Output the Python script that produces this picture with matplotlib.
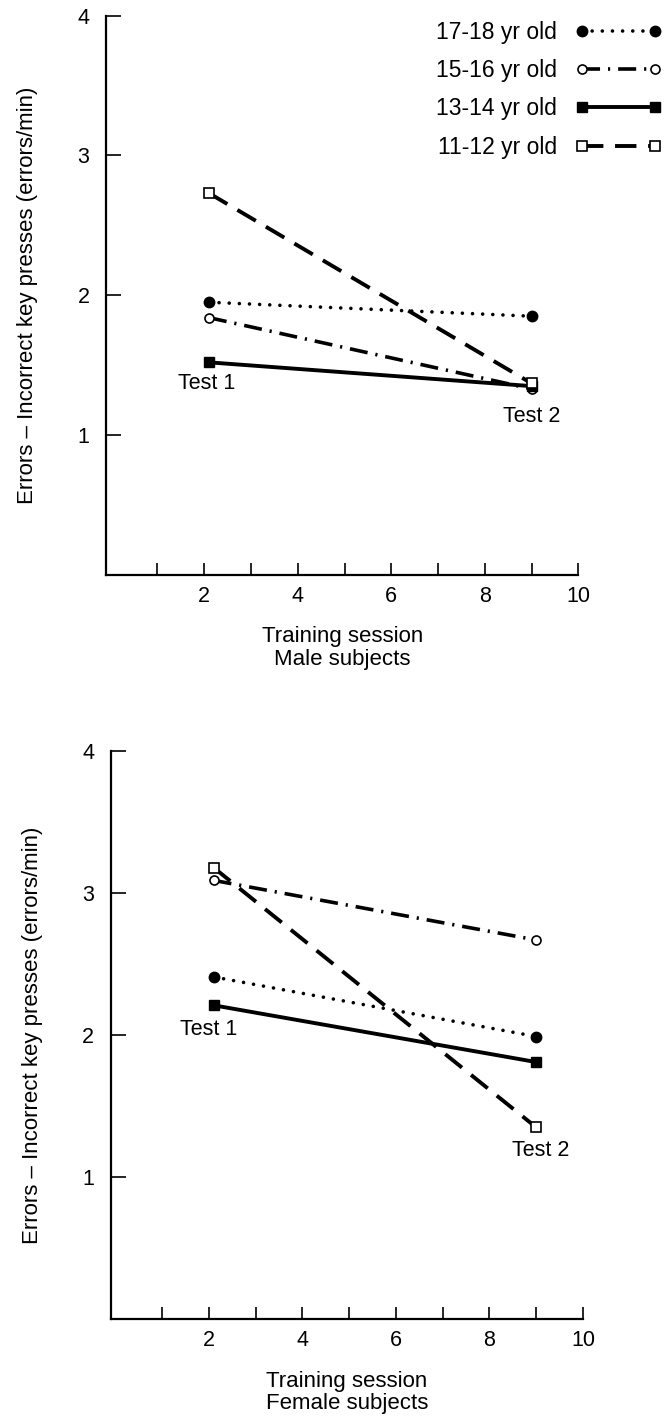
import matplotlib.pyplot as plt

plt.rcParams['font.family'] = ['Liberation Sans', 'DejaVu Sans']

# sessions where the two tests were given
sesiones = [2.1, 9.0]

grupos = ['17-18 yr old', '15-16 yr old', '13-14 yr old', '11-12 yr old']

# errores/min, hombres
hombres_17_18 = [1.95, 1.85]
hombres_15_16 = [1.84, 1.33]
hombres_13_14 = [1.52, 1.35]
hombres_11_12 = [2.73, 1.37]

# errores/min, mujeres
mujeres_17_18 = [2.41, 1.99]
mujeres_15_16 = [3.09, 2.67]
mujeres_13_14 = [2.21, 1.81]
mujeres_11_12 = [3.18, 1.35]

x_ticks = [1, 2, 3, 4, 5, 6, 7, 8, 9, 10]
x_tick_labels = ['', '2', '', '4', '', '6', '', '8', '', '10']
y_ticks = [1, 2, 3, 4]

# estilos: linea, marcador, relleno
estilos = [
    dict(ls=(0, (0.01, 2.8)), marker='o', ms=7.5, mfc='black', lw=2.6, dash_capstyle='round'),
    dict(ls=(0, (5, 2.2, 0.6, 2.2)), marker='o', ms=6.5, mfc='white', mew=1.2, lw=2.6),
    dict(ls='-', marker='s', ms=7, mfc='black', lw=2.8),
    dict(ls=(0, (5.5, 3)), marker='s', ms=6.5, mfc='white', mew=1.2, lw=2.8),
]


def dibujar_panel(ax, series, titulo, pos_test1, pos_test2):
    for serie, estilo, nombre in zip(series, estilos, grupos):
        ax.plot(sesiones, serie, color='black', mec='black', label=nombre, **estilo)

    ax.set_xlim(-0.1, 10)
    ax.set_ylim(0, 4)
    ax.set_xticks(x_ticks)
    ax.set_xticklabels(x_tick_labels)
    ax.set_yticks(y_ticks)
    ax.tick_params(axis='x', direction='in', length=9, width=1.2, pad=8, labelsize=15.5)
    ax.tick_params(axis='y', direction='in', length=11, width=1.2, pad=12, labelsize=15.5)
    ax.spines['top'].set_visible(False)
    ax.spines['right'].set_visible(False)
    ax.spines['left'].set_linewidth(1.6)
    ax.spines['bottom'].set_linewidth(1.6)

    ax.set_ylabel('Errors \u2013 Incorrect key presses (errors/min)', fontsize=16, labelpad=28)
    ax.set_xlabel('Training session\n' + titulo, fontsize=16, labelpad=14, linespacing=1.1)

    ax.text(pos_test1[0], pos_test1[1], 'Test 1', ha='center', va='center', fontsize=15.5)
    ax.text(pos_test2[0], pos_test2[1], 'Test 2', ha='center', va='center', fontsize=15.5)


fig = plt.figure(figsize=(6.67, 14.16), dpi=100)
ax1 = fig.add_axes([0.159, 0.594, 0.708, 0.395])
ax2 = fig.add_axes([0.166, 0.0685, 0.708, 0.401])

dibujar_panel(ax1, [hombres_17_18, hombres_15_16, hombres_13_14, hombres_11_12],
              'Male subjects', (2.05, 1.37), (9.0, 1.13))
dibujar_panel(ax2, [mujeres_17_18, mujeres_15_16, mujeres_13_14, mujeres_11_12],
              'Female subjects', (2.0, 2.04), (9.1, 1.19))

ax1.legend(loc='upper right', bbox_to_anchor=(0.993, 0.985), bbox_transform=fig.transFigure,
           frameon=False, markerfirst=False, numpoints=2, fontsize=16.5,
           handlelength=3.8, handletextpad=0.8, labelspacing=0.66,
           borderpad=0, borderaxespad=0)

fig.savefig('out.png', dpi=100)
